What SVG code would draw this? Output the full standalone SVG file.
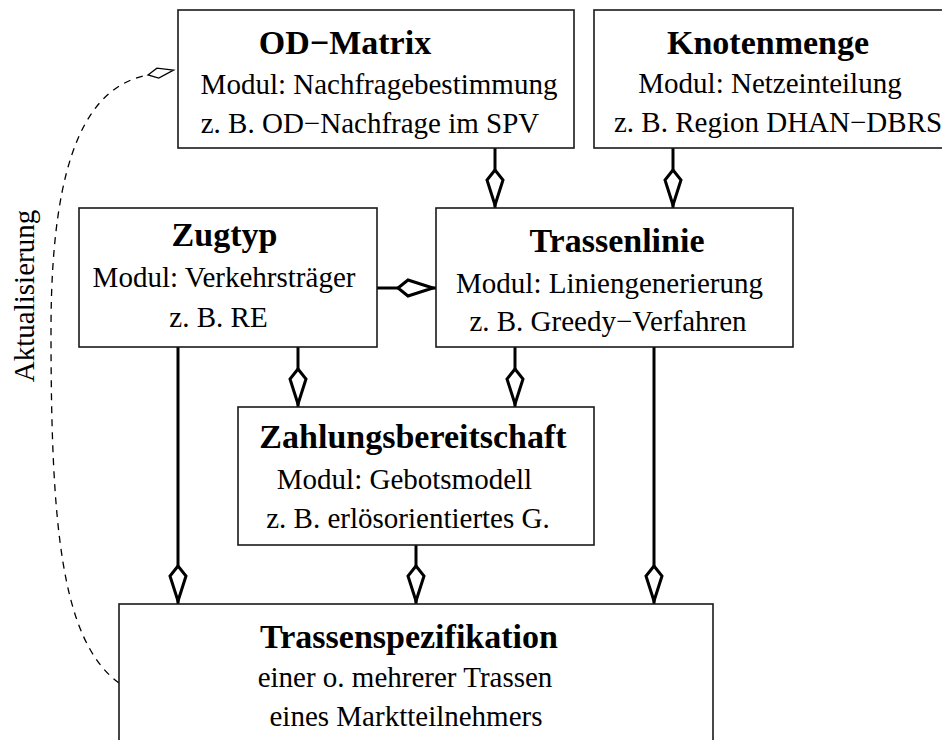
<svg xmlns="http://www.w3.org/2000/svg" width="942" height="740" viewBox="0 0 942 740">
<style>
  .box { fill: #fff; stroke: #1a1a1a; stroke-width: 1.6; }
  .t { font-family: "Liberation Serif", "Times New Roman", serif; fill: #000; text-anchor: middle; }
  .title { font-size: 34px; font-weight: bold; }
  .line { font-size: 29px; }
  .conn { fill: none; stroke: #000; stroke-width: 3; }
  .dash { fill: none; stroke: #000; stroke-width: 1.3; stroke-dasharray: 7 6; }
</style>
<defs>
  <marker id="agg" markerUnits="userSpaceOnUse" viewBox="-4 -12 46 24" markerWidth="46" markerHeight="24" refX="38" refY="0" orient="auto">
    <path d="M0,0 L10,-8 L35,0 L10,8 Z" fill="#fff" stroke="#000" stroke-width="3" stroke-linejoin="miter"/>
  </marker>
  <marker id="aggs" markerUnits="userSpaceOnUse" viewBox="-3 -8 34 16" markerWidth="34" markerHeight="16" refX="0" refY="0" orient="auto">
    <path d="M0,0 L10,-5 L26,0 L10,5 Z" fill="#fff" stroke="#000" stroke-width="1.3" stroke-dasharray="none"/>
  </marker>
</defs>

<g id="connectors">
  <path class="conn" d="M495,148 V208" marker-end="url(#agg)"/>
  <path class="conn" d="M673,148 V208" marker-end="url(#agg)"/>
  <path class="conn" d="M377,288 H436" marker-end="url(#agg)"/>
  <path class="conn" d="M298,347 V407" marker-end="url(#agg)"/>
  <path class="conn" d="M515,347 V407" marker-end="url(#agg)"/>
  <path class="conn" d="M178,347 V604" marker-end="url(#agg)"/>
  <path class="conn" d="M416,545 V604" marker-end="url(#agg)"/>
  <path class="conn" d="M654,347 V604" marker-end="url(#agg)"/>
  <path class="dash" d="M119,683 C60,640 51,520 51,330 C51,150 90,86 148,75" marker-end="url(#aggs)"/>
  <text class="t line" transform="translate(34,296) rotate(-90)">Aktualisierung</text>
</g>

<g id="od-matrix">
  <rect class="box" x="178" y="10" width="396" height="138"/>
  <text class="t title" x="345" y="54">OD−Matrix</text>
  <text class="t line" x="379" y="94">Modul: Nachfragebestimmung</text>
  <text class="t line" x="370" y="133">z. B. OD−Nachfrage im SPV</text>
</g>

<g id="knotenmenge">
  <rect class="box" x="594" y="10" width="370" height="138"/>
  <text class="t title" x="768" y="54">Knotenmenge</text>
  <text class="t line" x="770" y="93">Modul: Netzeinteilung</text>
  <text class="t line" x="614" y="132" style="text-anchor:start">z. B. Region DHAN−DBRS</text>
</g>

<g id="zugtyp">
  <rect class="box" x="79" y="208" width="298" height="139"/>
  <text class="t title" x="224.5" y="246">Zugtyp</text>
  <text class="t line" x="224" y="287">Modul: Verkehrsträger</text>
  <text class="t line" x="218.5" y="327">z. B. RE</text>
</g>

<g id="trassenlinie">
  <rect class="box" x="436" y="208" width="357" height="139"/>
  <text class="t title" x="617" y="252">Trassenlinie</text>
  <text class="t line" x="609.5" y="293">Modul: Liniengenerierung</text>
  <text class="t line" x="608" y="331">z. B. Greedy−Verfahren</text>
</g>

<g id="zahlungsbereitschaft">
  <rect class="box" x="238" y="407" width="356" height="138"/>
  <text class="t title" x="413" y="448">Zahlungsbereitschaft</text>
  <text class="t line" x="404.5" y="489">Modul: Gebotsmodell</text>
  <text class="t line" x="408" y="528">z. B. erlösorientiertes G.</text>
</g>

<g id="trassenspezifikation">
  <rect class="box" x="119" y="604" width="594" height="160"/>
  <text class="t title" x="409" y="648">Trassenspezifikation</text>
  <text class="t line" x="405" y="687">einer o. mehrerer Trassen</text>
  <text class="t line" x="406" y="726">eines Marktteilnehmers</text>
</g>
</svg>
